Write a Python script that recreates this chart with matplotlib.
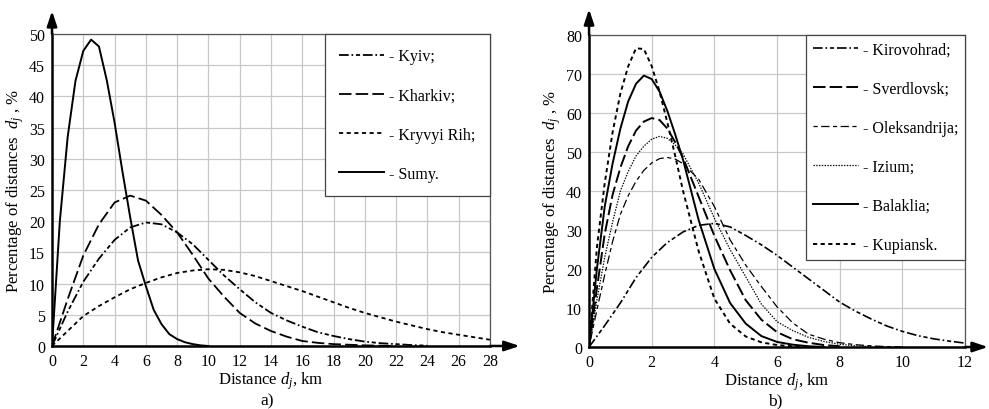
import numpy as np
import matplotlib.pyplot as plt

plt.rcParams['font.family'] = 'Liberation Serif'
plt.rcParams['mathtext.fontset'] = 'custom'
plt.rcParams['mathtext.rm'] = 'Liberation Serif'
plt.rcParams['mathtext.it'] = 'Liberation Serif:italic'
plt.rcParams['lines.scale_dashes'] = False

# a) datos (km, %)
km_kyiv = np.arange(0, 25)
kyiv = [0, 5.5, 10.3, 14, 17, 19, 19.8, 19.5, 18.2, 16.3, 13.8, 11.3, 9.1,
        7.0, 5.3, 4.1, 3.1, 2.2, 1.6, 1.1, 0.7, 0.45, 0.3, 0.15, 0.05]
km_kharkiv = np.arange(0, 23)
kharkiv = [0, 7.5, 14.5, 19.5, 23, 24.1, 23.3, 21, 18.2, 14.6, 10.8, 7.9,
           5.3, 3.6, 2.4, 1.5, 0.8, 0.5, 0.3, 0.2, 0.1, 0.05, 0]
km_kryvyi = np.arange(0, 29)
kryvyi = [0, 2.4, 4.8, 6.4, 7.8, 9.1, 10.1, 11, 11.7, 12.1, 12.3, 12.2, 11.8,
          11.2, 10.4, 9.6, 8.8, 7.9, 7.0, 6.1, 5.3, 4.6, 3.9, 3.3, 2.7, 2.2,
          1.8, 1.4, 1.0]
km_sumy = np.arange(0, 10.5, 0.5)
sumy = [0, 20, 33.5, 42.5, 47.3, 49.1, 48, 42.6, 35.8, 28, 20.6, 13.7, 9.6,
        5.8, 3.5, 1.9, 1.1, 0.6, 0.3, 0.1, 0]

# b)
km_kirov = np.arange(0, 12.5, 0.5)
kirovohrad = [0, 5.5, 11.3, 17.8, 23, 26.8, 29.5, 31.2, 31.7, 30.8, 28.6,
              26.2, 23.5, 20.5, 17.5, 14.5, 11.5, 9.2, 7.2, 5.4, 4.0, 2.9,
              2.1, 1.5, 1.0]
# primeros 3 km cada 0.25, luego cada 0.5
km_ini = list(np.arange(0, 3.25, 0.25))
km_sverd = km_ini + [3.5, 4, 4.5, 5, 5.5, 6, 6.5, 7, 7.5, 8]
sverdlovsk = [0, 15, 29, 39, 46, 51.5, 55.5, 57.8, 58.7, 58.2, 56, 52.5, 48.5,
              38.5, 28.5, 19.7, 12, 7, 3.8, 2, 1.1, 0.5, 0.2]
km_oleks = km_ini + [3.5, 4, 4.5, 5, 5.5, 6, 6.5, 7, 7.5, 8, 8.5, 9, 9.5, 10]
oleksandrija = [0, 9.5, 18.5, 27, 34, 38.8, 42.5, 45.3, 47.2, 48.3, 48.6,
                48.2, 47, 43, 36, 27.5, 21, 15.5, 10.3, 6.2, 3.3, 2, 1.1, 0.6,
                0.3, 0.1, 0]
km_izium = km_ini + [3.5, 4, 4.5, 5, 5.5, 6, 6.5, 7, 7.5, 8, 8.5, 9]
izium = [0, 12, 23, 32, 40, 45, 49, 51.5, 53.3, 54, 53.5, 51.8, 49.5,
         42, 33, 25, 18, 11, 6.5, 4.2, 2.5, 1.4, 0.7, 0.3, 0.1]
km_balak = km_ini + [3.5, 4, 4.5, 5, 5.5, 6, 6.5, 7, 7.5]
balaklia = [0, 20, 36, 47, 56, 63, 67.5, 69.6, 68.7, 65.5, 60.5, 54.5, 48,
            32.5, 20, 11.3, 6, 2.8, 1.3, 0.6, 0.2, 0]
km_kupi = km_ini + [3.5, 4, 4.5, 5, 5.5, 6, 6.5, 7]
kupiansk = [0, 25.5, 42, 55, 65, 72, 76.6, 76.4, 72, 65.5, 57.5, 49, 40,
            24.5, 12.4, 6, 2.7, 1.2, 0.5, 0.2, 0]


def preparar_ejes(ax, xmax, xstep, ymax, ystep, fx, fy):
    ax.set_xlim(0, xmax)
    ax.set_ylim(0, ymax)
    ax.set_xticks(np.arange(0, xmax + 1, xstep))
    ax.set_yticks(np.arange(0, ymax + 1, ystep))
    ax.grid(True, color='#c8c8c8', lw=0.9)
    ax.set_axisbelow(True)
    ax.tick_params(length=0, labelsize=11.5, pad=5)
    for lado in ('left', 'bottom'):
        ax.spines[lado].set_linewidth(1.8)
        ax.spines[lado].set_color('black')
    for lado in ('top', 'right'):
        ax.spines[lado].set_linewidth(0.9)
        ax.spines[lado].set_color('#555555')
    flecha = dict(arrowstyle='-|>,head_length=0.9,head_width=0.3',
                  lw=1.8, color='black', shrinkA=0, shrinkB=0)
    ax.annotate('', xy=(0, fy), xytext=(0, 1), xycoords='axes fraction',
                arrowprops=flecha, annotation_clip=False)
    ax.annotate('', xy=(fx, 0), xytext=(1, 0), xycoords='axes fraction',
                arrowprops=flecha, annotation_clip=False)
    ax.set_xlabel(r'Distance $d_j$, km', fontsize=12, labelpad=0.5)
    ax.set_ylabel(r'Percentage of distances  $d_j$ , %', fontsize=12,
                  labelpad=2)


fig = plt.figure(figsize=(9.89, 4.10), dpi=100)
ax1 = fig.add_axes([0.0526, 0.1537, 0.4428, 0.7609])
ax2 = fig.add_axes([0.5956, 0.1512, 0.3802, 0.7610])

# a)
ax1.plot(km_kyiv, kyiv, color='black', lw=1.3,
         dashes=(7, 2, 1.2, 2, 3, 2), label='- Kyiv;')
ax1.plot(km_kharkiv, kharkiv, color='black', lw=1.3,
         dashes=(9, 3), label='- Kharkiv;')
ax1.plot(km_kryvyi, kryvyi, color='black', lw=1.3,
         dashes=(3, 2.5), label='- Kryvyi Rih;')
ax1.plot(km_sumy, sumy, color='black', lw=1.4, label='- Sumy.')
preparar_ejes(ax1, 28, 2, 50, 5, 1.068, 1.074)
ley1 = ax1.legend(loc='upper right', bbox_to_anchor=(1, 1), borderaxespad=0,
                  fontsize=11.5, handlelength=2.8, handletextpad=0.35,
                  labelspacing=1.45, borderpad=0.9, fancybox=False,
                  framealpha=1, edgecolor='#444444')
ley1.get_frame().set_linewidth(0.9)

# b)
ax2.plot(km_kirov, kirovohrad, color='black', lw=1.2,
         dashes=(7, 2, 1.2, 2, 3, 2), label='- Kirovohrad;')
ax2.plot(km_sverd, sverdlovsk, color='black', lw=1.4,
         dashes=(9, 3), label='- Sverdlovsk;')
ax2.plot(km_oleks, oleksandrija, color='black', lw=0.9,
         dashes=(3, 2.5, 6, 2.5), label='- Oleksandrija;')
ax2.plot(km_izium, izium, color='black', lw=0.9,
         dashes=(1, 1), label='- Izium;')
ax2.plot(km_balak, balaklia, color='black', lw=1.4, label='- Balaklia;')
ax2.plot(km_kupi, kupiansk, color='black', lw=1.4,
         dashes=(3, 2.5), label='- Kupiansk.')
preparar_ejes(ax2, 12, 2, 80, 10, 1.061, 1.083)
ley2 = ax2.legend(loc='upper right', bbox_to_anchor=(1, 1), borderaxespad=0,
                  fontsize=11.5, handlelength=2.8, handletextpad=0.35,
                  labelspacing=1.45, borderpad=0.4, fancybox=False,
                  framealpha=1, edgecolor='#444444')
ley2.get_frame().set_linewidth(0.9)

fig.text(267 / 989, 1 - 401 / 410, 'a)', ha='center', va='center',
         fontsize=12.5)
fig.text(775 / 989, 1 - 401 / 410, 'b)', ha='center', va='center',
         fontsize=12.5)

fig.savefig('out.png', dpi=100)
